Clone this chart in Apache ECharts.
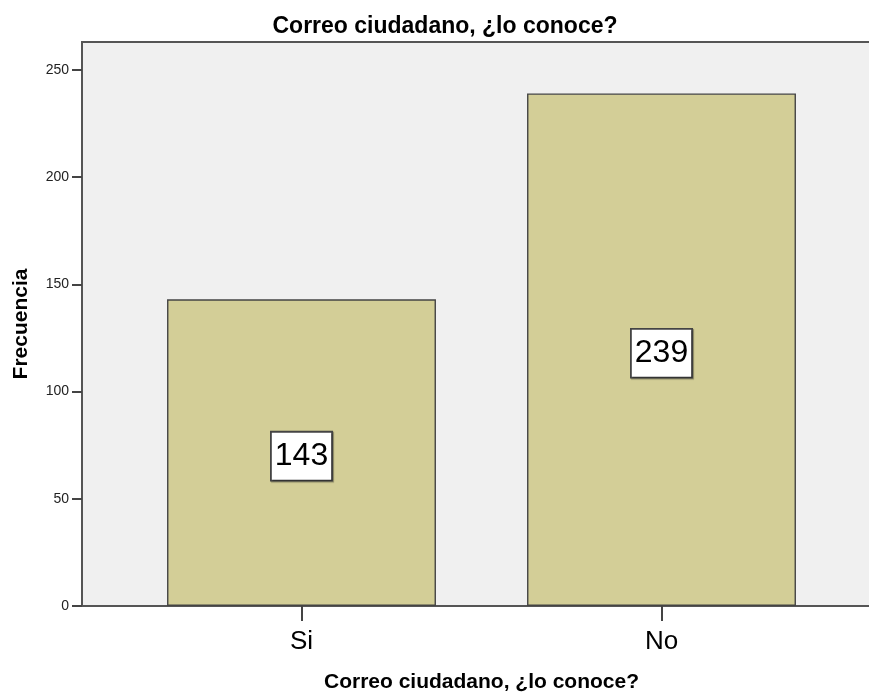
<!DOCTYPE html>
<html>
<head>
<meta charset="utf-8">
<script src="https://cdn.jsdelivr.net/npm/echarts@6/dist/echarts.min.js"></script>
<style>html,body{margin:0;padding:0;background:#fff;}#c{width:869px;height:693px;}</style>
</head>
<body>
<div id="c"></div>
<script>
const categories = ['Si', 'No'];
const frecuencia = [143, 239];
const yTicks = [0, 50, 100, 150, 200, 250];
const titleText = 'Correo ciudadano, ¿lo conoce?';
const yName = 'Frecuencia';

const FONT = '"Liberation Sans", Arial, sans-serif';
const chart = echarts.init(document.getElementById('c'), null, {renderer: 'canvas'});
const yMax = 263;
chart.setOption({
  animation: false,
  backgroundColor: '#ffffff',
  title: {
    text: titleText, left: 440, textAlign: 'center', top: 10,
    textStyle: {fontFamily: FONT, fontSize: 23, fontWeight: 'bold', color: '#000'}
  },
  grid: [
    {left: 82, right: -3, top: 42, bottom: 87, show: true, backgroundColor: '#F0F0F0',
     borderWidth: 2, borderColor: '#555555', outerBoundsMode: 'none', containLabel: false},
    {left: 121.5, width: 720, top: 42, bottom: 87, outerBoundsMode: 'none', containLabel: false}
  ],
  xAxis: [
    {type: 'category', gridIndex: 0, data: categories, show: false},
    {type: 'category', gridIndex: 1, data: categories,
     axisLine: {show: false},
     axisTick: {show: true, alignWithLabel: true, length: 15, lineStyle: {color: '#444', width: 2}},
     axisLabel: {fontFamily: FONT, fontSize: 26, color: '#000', margin: 23},
     name: titleText, nameLocation: 'middle', nameGap: 66,
     nameTextStyle: {fontFamily: FONT, fontSize: 21, fontWeight: 'bold', color: '#000'}}
  ],
  yAxis: [
    {type: 'value', gridIndex: 0, min: 0, max: yMax, interval: 50,
     axisLine: {show: false},
     axisTick: {show: true, length: 10, lineStyle: {color: '#444', width: 2},
       customValues: yTicks},
     axisLabel: {fontFamily: FONT, fontSize: 14, color: '#222', margin: 13, customValues: yTicks},
     splitLine: {show: false},
     name: yName, nameLocation: 'middle', nameGap: 50,
     nameTextStyle: {fontFamily: FONT, fontSize: 21, fontWeight: 'bold', color: '#000'}},
    {type: 'value', gridIndex: 1, min: 0, max: yMax, show: false, splitLine: {show: false}}
  ],
  series: [{
    type: 'bar', xAxisIndex: 1, yAxisIndex: 1,
    data: frecuencia, barWidth: '74.7%',
    itemStyle: {color: '#D3CE97', borderColor: '#444444', borderWidth: 1.4},
    label: {
      show: true, position: 'inside', offset: [0, 3.5],
      fontFamily: FONT, fontSize: 32, lineHeight: 36, color: '#000',
      backgroundColor: '#ffffff', borderColor: '#444', borderWidth: 1.8,
      padding: [6, 3, 5, 3],
      shadowColor: 'rgba(0,0,0,0.35)', shadowOffsetX: 1, shadowOffsetY: 1, shadowBlur: 1
    }
  }]
});
</script>
</body>
</html>
